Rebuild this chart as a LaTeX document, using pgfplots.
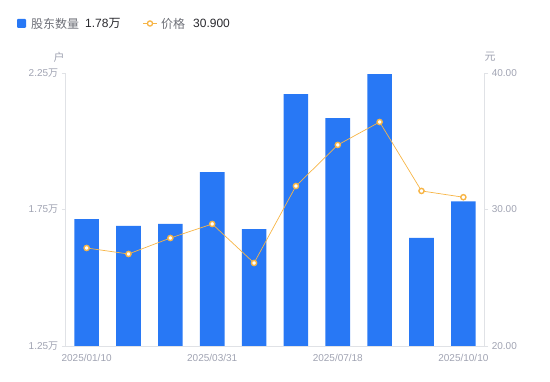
\documentclass[border=0pt]{standalone}
\usepackage{pgfplots}
\pgfplotsset{compat=1.18}
\usepackage{fontspec}
\setmainfont{Liberation Sans}
\newfontfamily\cjk{Noto Sans CJK SC}
\definecolor{barblue}{RGB}{40,120,245}
\definecolor{lineorange}{RGB}{247,181,70}
\definecolor{ticklab}{RGB}{160,163,178}
\definecolor{axisgray}{RGB}{224,226,230}
\definecolor{legtext}{RGB}{110,112,120}
\definecolor{valtext}{RGB}{40,40,45}
\begin{document}
\begin{tikzpicture}[x=1pt,y=1pt]
\path[use as bounding box] (0,0) rectangle (550,381);
\begin{axis}[
  at={(65.7pt,35pt)}, anchor=south west, scale only axis,
  width=418.6pt, height=273pt,
  xmin=-0.5, xmax=9.5, ymin=1.25, ymax=2.25,
  axis y line*=left, axis x line*=bottom,
  axis line style={draw=axisgray, line width=0.8pt},
  xtick={0,3,6,9},
  xticklabels={2025/01/10,2025/03/31,2025/07/18,2025/10/10},
  ytick={1.25,1.75,2.25},
  yticklabels={1.25{\cjk 万},1.75{\cjk 万},2.25{\cjk 万}},
  tick align=outside, major tick length=4pt,
  xtick style={draw=none},
  ytick style={draw=axisgray, line width=0.6pt},
  ticklabel style={font=\fontsize{10}{12}\selectfont, text=ticklab},
  xticklabel style={yshift=-1pt},
  /pgf/number format/assume math mode=true,
  clip=false,
]
\addplot[ybar, bar width=24.6pt, fill=barblue, draw=none] coordinates {
(0,1.715) (1,1.690) (2,1.697) (3,1.887) (4,1.678) (5,2.173) (6,2.085) (7,2.246) (8,1.646) (9,1.780)};
\end{axis}
\begin{axis}[
  at={(65.7pt,35pt)}, anchor=south west, scale only axis,
  width=418.6pt, height=273pt,
  xmin=-0.5, xmax=9.5, ymin=20, ymax=40,
  axis y line*=right, axis x line=none,
  axis line style={draw=axisgray, line width=0.8pt},
  ytick={20,30,40},
  tick align=outside, major tick length=4pt,
  ytick style={draw=axisgray, line width=0.6pt},
  ticklabel style={font=\fontsize{10}{12}\selectfont, text=ticklab},
  yticklabel style={/pgf/number format/.cd, fixed, fixed zerofill, precision=2},
  /pgf/number format/assume math mode=true,
  clip=false,
]
\addplot[lineorange, line width=0.7pt, mark=*, mark size=2.6pt,
  mark options={fill=white, draw=lineorange, line width=1.4pt}] coordinates {
(0,27.18) (1,26.74) (2,27.91) (3,28.94) (4,26.08) (5,31.72) (6,34.73) (7,36.41) (8,31.36) (9,30.90)};
\end{axis}
\node[text=ticklab, font=\cjk\fontsize{11}{13}\selectfont] at (59,324) {户};
\node[text=ticklab, font=\cjk\fontsize{11}{13}\selectfont] at (490,324) {元};
% legend
\fill[barblue, rounded corners=1pt] (17,353) rectangle (26,362);
\node[anchor=west, inner sep=0pt, text=legtext, font=\cjk\fontsize{12}{14}\selectfont] at (31,357.5) {股东数量};
\node[anchor=west, inner sep=0pt, text=valtext, font=\fontsize{12}{14}\selectfont] at (85,357.5) {1.78{\cjk 万}};
\draw[lineorange, line width=1.2pt] (143,357.5) -- (157,357.5);
\draw[lineorange, line width=1.3pt, fill=white] (150,357.5) circle (2.6pt);
\node[anchor=west, inner sep=0pt, text=legtext, font=\cjk\fontsize{12}{14}\selectfont] at (161,357.5) {价格};
\node[anchor=west, inner sep=0pt, text=valtext, font=\fontsize{12}{14}\selectfont] at (193,357.5) {30.900};
\end{tikzpicture}
\end{document}
